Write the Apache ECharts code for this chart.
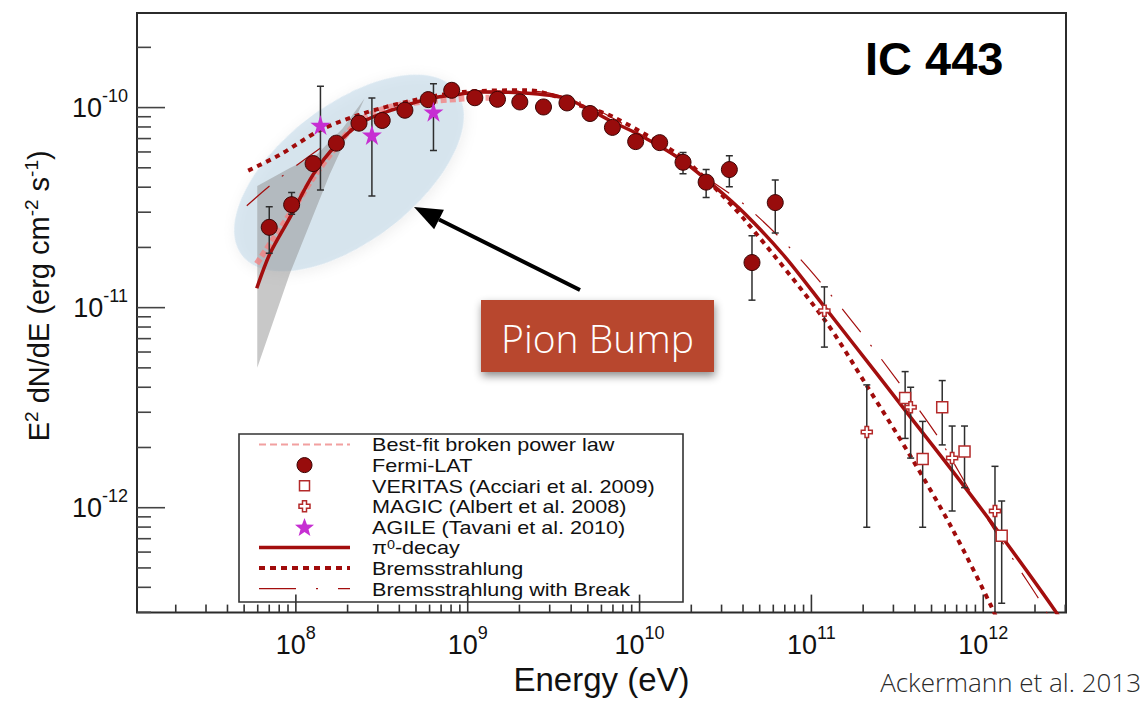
<!DOCTYPE html>
<html>
<head>
<meta charset="utf-8">
<title>IC 443</title>
<script src="https://cdn.jsdelivr.net/npm/echarts@6/dist/echarts.min.js"></script>
<style>
  html, body { margin: 0; padding: 0; background: #fff; }
  #chart { width: 1146px; height: 701px; }
</style>
</head>
<body>
<div id="chart"></div>
<script>
// ---- Axis ranges (log scales) ----
const xMin = 1.19e7, xMax = 3.03e12;
const yMin = 2.99e-13, yMax = 2.97e-10;
const xMajorTicks = [1e8, 1e9, 1e10, 1e11, 1e12];
const yMajorTicks = [1e-12, 1e-11, 1e-10];

// ---- Fermi-LAT spectral points: energy (eV), E^2 dN/dE, error low, error high ----
const fermiE  = [7.0e7, 9.45e7, 1.26e8, 1.72e8, 2.33e8, 3.18e8, 4.31e8, 5.89e8, 8.07e8, 1.10e9, 1.49e9, 2.01e9,
                 2.76e9, 3.78e9, 5.15e9, 6.95e9, 9.49e9, 1.31e10, 1.79e10, 2.44e10, 3.33e10, 4.51e10, 6.16e10];
const fermiF  = [2.52e-11, 3.27e-11, 5.25e-11, 6.64e-11, 8.36e-11, 8.62e-11, 9.70e-11, 1.096e-10, 1.22e-10, 1.12e-10, 1.10e-10, 1.067e-10,
                 1.007e-10, 1.055e-10, 9.34e-11, 7.96e-11, 6.76e-11, 6.68e-11, 5.33e-11, 4.24e-11, 4.90e-11, 1.68e-11, 3.35e-11];
const fermiLo = [1.87e-11, 2.93e-11, 4.9e-11, 6.3e-11, 8.0e-11, 8.3e-11, 9.4e-11, 1.06e-10, 1.18e-10, 1.08e-10, 1.06e-10, 1.03e-10,
                 9.7e-11, 1.02e-10, 9.0e-11, 7.6e-11, 6.4e-11, 6.3e-11, 4.67e-11, 3.55e-11, 4.02e-11, 1.09e-11, 2.36e-11];
const fermiHi = [3.19e-11, 3.76e-11, 5.6e-11, 7.0e-11, 8.7e-11, 8.95e-11, 1.0e-10, 1.13e-10, 1.26e-10, 1.16e-10, 1.14e-10, 1.10e-10,
                 1.04e-10, 1.09e-10, 9.7e-11, 8.3e-11, 7.1e-11, 7.0e-11, 5.97e-11, 4.9e-11, 5.74e-11, 2.29e-11, 4.34e-11];

// ---- AGILE (Tavani et al. 2010) ----
const agileE  = [1.39e8, 2.77e8, 6.32e8];
const agileF  = [8.18e-11, 7.30e-11, 9.52e-11];
const agileLo = [3.87e-11, 3.61e-11, 6.11e-11];
const agileHi = [1.28e-10, 1.117e-10, 1.315e-10];

// ---- MAGIC (Albert et al. 2008) ----
const magicE  = [1.19e11, 2.10e11, 3.78e11, 6.59e11, 1.17e12];
const magicF  = [9.66e-12, 2.39e-12, 3.18e-12, 1.77e-12, 9.64e-13];
const magicLo = [6.35e-12, 7.98e-13, 1.77e-12, 9.64e-13, 1.0e-13];
const magicHi = [1.27e-11, 4.11e-12, 4.0e-12, 2.56e-12, 1.61e-12];

// ---- VERITAS (Acciari et al. 2009) ----
const veritasE  = [3.51e11, 4.44e11, 5.77e11, 7.78e11, 1.28e12];
const veritasF  = [3.53e-12, 1.75e-12, 3.18e-12, 1.91e-12, 7.24e-13];
const veritasLo = [2.22e-12, 7.98e-13, 2.06e-12, 1.26e-12, 3.33e-13];
const veritasHi = [4.79e-12, 2.70e-12, 4.32e-12, 2.56e-12, 1.08e-12];

// ---- Model curves ----
const pionE = [5.92e7, 7.06e7, 9.23e7, 1.26e8, 1.72e8, 2.46e8, 3.84e8, 6.0e8, 9.36e8, 1.17e9, 2.0e9, 3.72e9, 6.95e9,
               1.0e10, 1.69e10, 2.64e10, 4.13e10, 7.0e10, 1.19e11, 2.45e11, 3.83e11, 6.53e11, 1.17e12, 2.60e12, 3.2e12];
const pionF = [1.25e-11, 1.86e-11, 2.82e-11, 4.62e-11, 6.52e-11, 8.49e-11, 9.89e-11, 1.109e-10, 1.173e-10, 1.197e-10, 1.186e-10, 1.109e-10, 8.49e-11,
               7.3e-11, 5.6e-11, 4.13e-11, 2.93e-11, 1.8e-11, 1.01e-11, 4.57e-12, 2.79e-12, 1.55e-12, 7.98e-13, 3.08e-13, 2.3e-13];

const bremsE = [5.28e7, 8.07e7, 1.39e8, 2.46e8, 4.8e8, 9.36e8, 2.28e9, 4.45e9, 6.95e9, 1.69e10, 2.64e10, 4.13e10,
                1.19e11, 2.10e11, 3.83e11, 6.53e11, 1.14e12, 1.3e12];
const bremsF = [4.84e-11, 5.81e-11, 7.72e-11, 9.34e-11, 1.086e-10, 1.197e-10, 1.22e-10, 1.026e-10, 9.02e-11, 5.79e-11, 4.1e-11, 2.72e-11,
                8.71e-12, 4.07e-12, 1.77e-12, 7.98e-13, 3.08e-13, 2.3e-13];

const breakE = [5.18e7, 7.55e7, 1.57e8, 1.97e8, 3.08e8, 6.0e8, 1.17e9, 2.28e9, 4.45e9, 9.93e9, 2.21e10, 4.13e10,
                8.41e10, 1.64e11, 3.2e11, 5.47e11, 8.85e11, 1.59e12, 2.22e12, 2.6e12];
const breakF = [3.23e-11, 4.26e-11, 6.76e-11, 7.6e-11, 9.34e-11, 1.109e-10, 1.21e-10, 1.21e-10, 1.07e-10, 7.43e-11, 4.72e-11, 3.24e-11,
                1.79e-11, 9.03e-12, 4.27e-12, 2.25e-12, 1.12e-12, 5.07e-13, 3.25e-13, 2.5e-13];

const bplE = [5.92e7, 9.23e7, 1.26e8, 1.88e8, 2.46e8, 3.84e8, 9.36e8, 1.34e9];
const bplF = [1.66e-11, 2.93e-11, 4.46e-11, 7.03e-11, 8.83e-11, 1.026e-10, 1.109e-10, 1.12e-10];

// ---- Low-energy uncertainty band ----
const bandUpperE = [5.96e7, 9.23e7, 1.32e8, 1.87e8, 2.51e8];
const bandUpperF = [4.06e-11, 4.99e-11, 5.81e-11, 7.87e-11, 1.109e-10];
const bandLowerE = [5.96e7, 9.23e7, 1.57e8, 2.51e8];
const bandLowerF = [5.0e-12, 1.48e-11, 4.62e-11, 1.109e-10];

// ---- Legend entries ----
const legendLabels = [
  'Best-fit broken power law',
  'Fermi-LAT',
  'VERITAS (Acciari et al. 2009)',
  'MAGIC (Albert et al. 2008)',
  'AGILE (Tavani et al. 2010)',
  '{t|\u03c0}{s|0}{t|-decay}',
  'Bremsstrahlung',
  'Bremsstrahlung with Break'
];

const RED = '#a30e0e';
const DOT_RED = '#a00b0b';
const PINK = 'rgba(243,130,130,0.8)';
const MAGENTA = '#c62ed2';
const OPEN_RED = '#b42a2a';
const FONT = '"Liberation Sans", Arial, Helvetica, sans-serif';
const NARROW = '"Liberation Sans Narrow", "Arial Narrow", "Liberation Sans", Arial, sans-serif';

const zip = (a, b) => a.map((v, i) => [v, b[i]]);
const zip4 = (a, b, c, d) => a.map((v, i) => [v, b[i], c[i], d[i]]);

const STAR_PATH = 'path://M50,2 L61.8,38.2 L99.5,38.2 L69,60.5 L80.6,96.7 L50,74.3 L19.4,96.7 L31,60.5 L0.5,38.2 L38.2,38.2 Z';
const PLUS_PATH = 'path://M34,0 H66 V34 H100 V66 H66 V100 H34 V66 H0 V34 H34 Z';

function decadeLabel(v) {
  const l = Math.log10(v);
  const e = Math.round(l);
  if (Math.abs(l - e) > 1e-6) return '';
  return '{b|10}{s|' + e + '}';
}

function minorTicks(lo, hi) {
  const out = [];
  for (let k = Math.floor(Math.log10(lo)); k <= Math.ceil(Math.log10(hi)); k++) {
    for (let m = 2; m <= 9; m++) {
      const v = m * Math.pow(10, k);
      if (v > lo && v < hi) out.push(v);
    }
  }
  return out;
}

// error bars drawn through the axes' scales
function errorBarItem(params, api) {
  const x = api.value(0);
  const pLo = api.coord([x, api.value(2)]);
  const pHi = api.coord([x, api.value(3)]);
  const cap = 3.5;
  const st = { stroke: '#2e2e2e', lineWidth: 1.5 };
  return {
    type: 'group',
    children: [
      { type: 'line', shape: { x1: pLo[0], y1: pLo[1], x2: pHi[0], y2: pHi[1] }, style: st },
      { type: 'line', shape: { x1: pHi[0] - cap, y1: pHi[1], x2: pHi[0] + cap, y2: pHi[1] }, style: st },
      { type: 'line', shape: { x1: pLo[0] - cap, y1: pLo[1], x2: pLo[0] + cap, y2: pLo[1] }, style: st }
    ]
  };
}

const errorData = [].concat(
  zip4(fermiE, fermiF, fermiLo, fermiHi),
  zip4(agileE, agileF, agileLo, agileHi),
  zip4(magicE, magicF, magicLo, magicHi),
  zip4(veritasE, veritasF, veritasLo, veritasHi)
);

// axis ticks (inside, ROOT style)
const xTickData = xMajorTicks.map(v => [v, yMin, 1]).concat(minorTicks(xMin, xMax).map(v => [v, yMin, 0]));
const yTickData = yMajorTicks.map(v => [xMin, v, 1]).concat(minorTicks(yMin, yMax).map(v => [xMin, v, 0]));

function xTickItem(params, api) {
  const cs = params.coordSys;
  const p = api.coord([api.value(0), yMin]);
  const len = api.value(2) ? 18 : 8;
  const yb = cs.y + cs.height;
  return { type: 'line', shape: { x1: p[0], y1: yb, x2: p[0], y2: yb - len },
           style: { stroke: '#333', lineWidth: 1.6 } };
}
function yTickItem(params, api) {
  const cs = params.coordSys;
  const p = api.coord([xMin, api.value(1)]);
  const len = api.value(2) ? 28 : 14;
  return { type: 'line', shape: { x1: cs.x, y1: p[1], x2: cs.x + len, y2: p[1] },
           style: { stroke: '#444', lineWidth: 1.6 } };
}

function bandItem(params, api) {
  if (params.dataIndex !== 0) return null;
  const pts = zip(bandUpperE, bandUpperF).map(d => api.coord(d));
  const low = zip(bandLowerE, bandLowerF).map(d => api.coord(d)).reverse();
  return { type: 'polygon', shape: { points: pts.concat(low) },
           style: { fill: 'rgba(140,140,140,0.48)' } };
}

// ---- Legend (drawn as graphics inside a framed box) ----
function starPoints(cx, cy, R, r) {
  const pts = [];
  for (let i = 0; i < 10; i++) {
    const a = -Math.PI / 2 + i * Math.PI / 5;
    const rad = i % 2 ? r : R;
    pts.push([cx + rad * Math.cos(a), cy + rad * Math.sin(a)]);
  }
  return pts;
}
function plusPoints(cx, cy, L, a) {
  return [[cx - a, cy - L], [cx + a, cy - L], [cx + a, cy - a], [cx + L, cy - a], [cx + L, cy + a], [cx + a, cy + a],
          [cx + a, cy + L], [cx - a, cy + L], [cx - a, cy + a], [cx - L, cy + a], [cx - L, cy - a], [cx - a, cy - a]];
}

const LEG = { x: 239, y: 434, w: 444, h: 168, row0: 444.5, pitch: 20.6, sx0: 259, sx1: 350, tx: 372 };
function legendGraphics() {
  const kids = [{ type: 'rect', shape: { x: LEG.x, y: LEG.y, width: LEG.w, height: LEG.h },
                  style: { fill: '#fff', stroke: '#333', lineWidth: 1.6 } }];
  const cx = (LEG.sx0 + LEG.sx1) / 2;
  legendLabels.forEach((label, i) => {
    const y = LEG.row0 + i * LEG.pitch;
    const rich = label.charAt(0) === '{';
    kids.push({ type: 'text', x: LEG.tx, y: y + 0.5, scaleX: 1.2,
      style: { text: rich ? label : '{t|' + label + '}', fill: '#111', fontSize: 18, fontFamily: FONT,
               verticalAlign: 'middle',
               rich: { t: { fontSize: 18, fontFamily: FONT, lineHeight: 18, fill: '#111' },
                       s: { fontSize: 12, fontFamily: FONT, lineHeight: 18, fill: '#111', verticalAlign: 'top', padding: [0, 0, 7, 0] } } } });
    const line = (style) => kids.push({ type: 'line', shape: { x1: LEG.sx0, y1: y, x2: LEG.sx1, y2: y }, style: style });
    if (i === 0) line({ stroke: '#f2a0a0', lineWidth: 2, lineDash: [7, 4] });
    if (i === 1) kids.push({ type: 'circle', shape: { cx: cx, cy: y, r: 7.5 }, style: { fill: '#980c0c', stroke: '#3a0505', lineWidth: 1 } });
    if (i === 2) kids.push({ type: 'rect', shape: { x: cx - 5, y: y - 5, width: 10, height: 10 }, style: { fill: '#fff', stroke: OPEN_RED, lineWidth: 1.5 } });
    if (i === 3) kids.push({ type: 'polygon', shape: { points: plusPoints(cx, y, 5.5, 2) }, style: { fill: '#fff', stroke: OPEN_RED, lineWidth: 1.5 } });
    if (i === 4) kids.push({ type: 'polygon', shape: { points: starPoints(cx, y + 1, 10, 4.2) }, style: { fill: MAGENTA } });
    if (i === 5) line({ stroke: RED, lineWidth: 3.5 });
    if (i === 6) line({ stroke: DOT_RED, lineWidth: 4, lineDash: [6, 5] });
    if (i === 7) line({ stroke: RED, lineWidth: 1.2, lineDash: [37, 20, 2, 20] });
  });
  return { type: 'group', z: 50, children: kids };
}

// ---- Annotation: highlight ellipse, arrow and callout ----
const tip = [414, 207], tail = [580, 290];
const ux = (tail[0] - tip[0]), uy = (tail[1] - tip[1]);
const ul = Math.hypot(ux, uy);
const dx = ux / ul, dy = uy / ul;
const headLen = 28, headHalf = 11;
const baseC = [tip[0] + dx * headLen, tip[1] + dy * headLen];

const chart = echarts.init(document.getElementById('chart'), null, { renderer: 'svg' });
chart.setOption({
  animation: false,
  backgroundColor: '#fff',
  grid: { left: 137, right: 80, top: 13, bottom: 82, show: true, borderColor: '#2b2b2b', borderWidth: 2, backgroundColor: 'transparent' },
  xAxis: {
    type: 'log', logBase: 10, min: xMin, max: xMax,
    name: 'Energy (eV)', nameLocation: 'middle', nameGap: 47,
    nameTextStyle: { fontSize: 33, color: '#111', fontFamily: FONT },
    axisLine: { show: false }, axisTick: { show: false }, splitLine: { show: false },
    axisLabel: {
      formatter: decadeLabel, margin: 11, color: '#111',
      rich: { b: { fontSize: 27, fontFamily: NARROW, color: '#111' },
              s: { fontSize: 18, fontFamily: NARROW, color: '#111', padding: [0, 0, 24, 0] } }
    }
  },
  yAxis: {
    type: 'log', logBase: 10, min: yMin, max: yMax,
    name: '{t|E}{s|2}{t| dN/dE (erg cm}{s|-2}{t| s}{s|-1}{t|)}',
    nameLocation: 'middle', nameGap: 82, nameRotate: 90,
    nameTextStyle: { color: '#111', padding: [0, 0, 0, 34],
      rich: { t: { fontSize: 29, fontFamily: FONT, color: '#111' },
              s: { fontSize: 19, fontFamily: FONT, color: '#111', padding: [0, 0, 14, 0] } } },
    axisLine: { show: false }, axisTick: { show: false }, splitLine: { show: false },
    axisLabel: {
      formatter: decadeLabel, margin: 9, color: '#111',
      rich: { b: { fontSize: 27, fontFamily: NARROW, color: '#111' },
              s: { fontSize: 18, fontFamily: NARROW, color: '#111', padding: [0, 0, 24, 0] } }
    }
  },
  series: [
    { name: 'band', type: 'custom', renderItem: bandItem, data: [[bandUpperE[0], bandUpperF[0]]], z: 1, silent: true },
    { name: 'Best-fit broken power law', type: 'line', data: zip(bplE, bplF), showSymbol: false, smooth: 0.3,
      lineStyle: { color: PINK, width: 6, type: [6, 3] }, z: 2 },
    { name: 'Bremsstrahlung with Break', type: 'line', data: zip(breakE, breakF), showSymbol: false, smooth: 0.3,
      lineStyle: { color: RED, width: 1.2, type: [30, 16, 2, 16] }, z: 3 },
    { name: 'Bremsstrahlung', type: 'line', data: zip(bremsE, bremsF), showSymbol: false, smooth: 0.3,
      lineStyle: { color: DOT_RED, width: 4, type: [5, 5], cap: 'butt' }, z: 3 },
    { name: '\u03c0\u2070-decay', type: 'line', data: zip(pionE, pionF), showSymbol: false, smooth: 0.3,
      lineStyle: { color: RED, width: 3.5 }, z: 4 },
    { name: 'errors', type: 'custom', renderItem: errorBarItem, data: errorData, encode: { x: 0, y: 1 }, clip: true, z: 5 },
    { name: 'Fermi-LAT', type: 'scatter', data: zip(fermiE, fermiF), symbol: 'circle', symbolSize: 16,
      itemStyle: { color: '#980c0c', borderColor: '#3a0505', borderWidth: 1, opacity: 1 }, z: 6 },
    { name: 'VERITAS (Acciari et al. 2009)', type: 'scatter', data: zip(veritasE, veritasF), symbol: 'rect', symbolSize: 11,
      itemStyle: { color: '#fff', borderColor: OPEN_RED, borderWidth: 1.5, opacity: 1 }, z: 6 },
    { name: 'MAGIC (Albert et al. 2008)', type: 'scatter', data: zip(magicE, magicF), symbol: PLUS_PATH, symbolSize: 11,
      itemStyle: { color: '#fff', borderColor: OPEN_RED, borderWidth: 1.5, opacity: 1 }, z: 6 },
    { name: 'AGILE (Tavani et al. 2010)', type: 'scatter', data: zip(agileE, agileF), symbol: STAR_PATH, symbolSize: 20,
      itemStyle: { color: MAGENTA, opacity: 1 }, z: 7 },
    { name: 'xticks', type: 'custom', renderItem: xTickItem, data: xTickData, encode: { x: 0, y: 1 }, z: 8, silent: true },
    { name: 'yticks', type: 'custom', renderItem: yTickItem, data: yTickData, encode: { x: 0, y: 1 }, z: 8, silent: true }
  ],
  graphic: [
    { type: 'ellipse', z: 0, x: 349, y: 173, rotation: 37.5 * Math.PI / 180,
      shape: { cx: 0, cy: 0, rx: 135, ry: 68 },
      style: { fill: 'rgba(172,203,224,0.42)', shadowBlur: 14, shadowColor: 'rgba(0,0,0,0.16)', shadowOffsetY: 3 } },
    { type: 'text', z: 60, x: 865, y: 58,
      style: { text: 'IC 443', font: 'bold 47px ' + FONT, fill: '#000', verticalAlign: 'middle' } },
    legendGraphics(),
    { type: 'line', z: 100, shape: { x1: tail[0], y1: tail[1], x2: baseC[0], y2: baseC[1] },
      style: { stroke: '#000', lineWidth: 4 } },
    { type: 'polygon', z: 100, shape: { points: [tip,
        [baseC[0] - dy * headHalf, baseC[1] + dx * headHalf],
        [baseC[0] + dy * headHalf, baseC[1] - dx * headHalf]] },
      style: { fill: '#000' } },
    { type: 'rect', z: 100, shape: { x: 481, y: 300, width: 233, height: 72 },
      style: { fill: '#b8462f', shadowBlur: 8, shadowColor: 'rgba(0,0,0,0.45)', shadowOffsetX: 1, shadowOffsetY: 4 } },
    { type: 'text', z: 101, x: 597.5, y: 337,
      style: { text: 'Pion Bump', font: '300 39px "Open Sans", Lato, sans-serif', fill: '#fff', align: 'center', verticalAlign: 'middle' } },
    { type: 'text', z: 60, x: 1141, y: 682,
      style: { text: 'Ackermann et al. 2013', fontSize: 26, fontWeight: 300, fontFamily: '"Open Sans", Lato, sans-serif',
               lineHeight: 26, fill: '#2a2a2a', align: 'right', verticalAlign: 'middle' } }
  ]
});
</script>
</body>
</html>
